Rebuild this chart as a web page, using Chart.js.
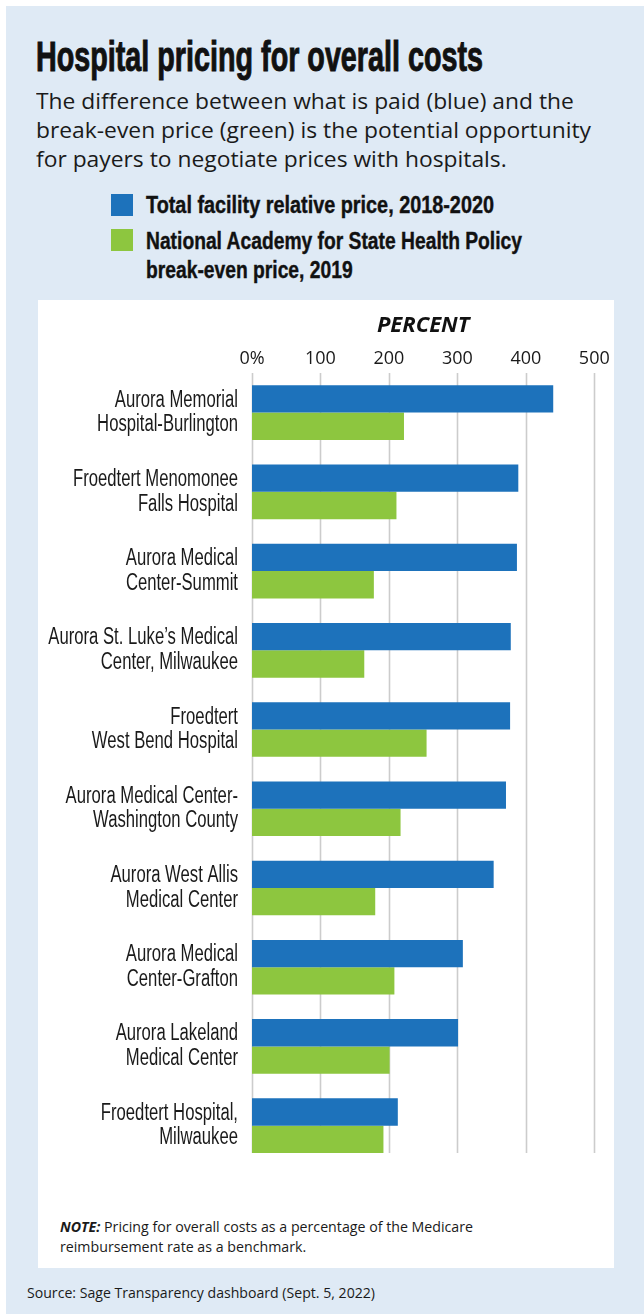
<!DOCTYPE html>
<html>
<head>
<meta charset="utf-8">
<script src="https://cdn.jsdelivr.net/npm/chart.js@4"></script>
<style>
  html, body { margin: 0; padding: 0; background: #fff; }
  body { width: 644px; height: 1314px; position: relative; overflow: hidden; font-family: 'Open Sans', sans-serif; color: #1a1a1a; }
  .bg { position: absolute; left: 6px; top: 6px; right: 0; bottom: 0; background: #dfeaf5; }
  .panel { position: absolute; left: 38px; top: 300px; width: 576px; height: 968px; background: #fff; }
  .fit { position: absolute; white-space: nowrap; transform-origin: 0 0; }
  .title { left: 36px; top: 32px; font-family: 'Liberation Sans', Arial, sans-serif; font-weight: bold; font-size: 42px; line-height: 50px; color: #111; -webkit-text-stroke: 1px #111; }
  .sub { left: 36px; top: 86px; font-size: 22px; line-height: 29px; }
  .leg { left: 146px; font-family: 'Liberation Sans', Arial, sans-serif; font-weight: bold; font-size: 23px; line-height: 28.5px; color: #111; -webkit-text-stroke: 0.4px #111; }
  .sq { position: absolute; left: 111px; width: 22px; height: 22px; }
  .note { left: 60px; top: 1217px; font-size: 14.5px; line-height: 19.5px; }
  .src { left: 27px; top: 1283px; font-size: 14.3px; line-height: 20px; }
  canvas { position: absolute; left: 38px; top: 300px; }
</style>
</head>
<body>
<div class="bg"></div>
<div class="panel"></div>
<div class="fit title" data-w="447">Hospital pricing for overall costs</div>
<div class="fit sub" data-w="555">The difference between what is paid (blue) and the<br>break-even price (green) is the potential opportunity<br>for payers to negotiate prices with hospitals.</div>
<div class="sq" style="top:194px;background:#1d72bb"></div>
<div class="fit leg" style="top:191px" data-w="348">Total facility relative price, 2018-2020</div>
<div class="sq" style="top:229px;background:#8dc63f"></div>
<div class="fit leg" style="top:227px" data-w="376">National Academy for State Health Policy<br>break-even price, 2019</div>
<canvas id="chart" width="576" height="904"></canvas>
<div class="fit note" data-w="413"><b><i>NOTE:</i></b> Pricing for overall costs as a percentage of the Medicare<br>reimbursement rate as a benchmark.</div>
<div class="fit src" data-w="348">Source: Sage Transparency dashboard (Sept. 5, 2022)</div>

<script>
// hospitals, top to bottom
const hospitals = [
  ['Aurora Memorial', 'Hospital-Burlington'],
  ['Froedtert Menomonee', 'Falls Hospital'],
  ['Aurora Medical', 'Center-Summit'],
  ['Aurora St. Luke\u2019s Medical', 'Center, Milwaukee'],
  ['Froedtert', 'West Bend Hospital'],
  ['Aurora Medical Center-', 'Washington County'],
  ['Aurora West Allis', 'Medical Center'],
  ['Aurora Medical', 'Center-Grafton'],
  ['Aurora Lakeland', 'Medical Center'],
  ['Froedtert Hospital,', 'Milwaukee']
]
// percent of Medicare
const relativePrice = [440, 389, 387, 378, 377, 371, 353, 308, 301, 213]
const breakEven = [222, 211, 178, 164, 255, 217, 180, 208, 201, 192]
const xTicks = [0, 100, 200, 300, 400, 500]

const blue = '#1d72bb'
const green = '#8dc63f'
const squeeze = 0.725

// squeeze the text blocks to the widths of the condensed print fonts
document.querySelectorAll('.fit').forEach(function(el) {
  const w = el.getBoundingClientRect().width
  el.style.transform = 'scaleX(' + (el.dataset.w / w) + ')'
})

// vertical grid lines, stopping at the bottom of the last bar
const gridLines = {
  id: 'gridLines',
  beforeDatasetsDraw(chart) {
    const ctx = chart.ctx
    const x = chart.scales.x
    const meta = chart.getDatasetMeta(1)
    const last = meta.data[meta.data.length - 1]
    const bottom = last.y + last.height / 2
    ctx.save()
    ctx.strokeStyle = '#cccccc'
    ctx.lineWidth = 1.6
    xTicks.forEach(function(t) {
      const px = Math.round(x.getPixelForValue(t)) + 0.5
      ctx.beginPath()
      ctx.moveTo(px, chart.chartArea.top)
      ctx.lineTo(px, bottom)
      ctx.stroke()
    })
    ctx.restore()
  }
}

new Chart(document.getElementById('chart'), {
  type: 'bar',
  data: {
    labels: hospitals,
    datasets: [
      { label: 'Total facility relative price, 2018-2020', data: relativePrice, backgroundColor: blue },
      { label: 'National Academy for State Health Policy break-even price, 2019', data: breakEven, backgroundColor: green }
    ]
  },
  options: {
    indexAxis: 'y',
    responsive: false,
    animation: false,
    devicePixelRatio: 1,
    layout: { padding: { top: 0, right: 19.7, bottom: 0, left: 0 } },
    datasets: { bar: { categoryPercentage: 0.69, barPercentage: 1 } },
    plugins: { legend: { display: false }, tooltip: { enabled: false } },
    scales: {
      x: {
        position: 'top',
        min: 0,
        max: 500,
        afterBuildTicks: function(scale) { scale.ticks = xTicks.map(function(v) { return { value: v } }) },
        afterFit: function(scale) { scale.height = 73 },
        grid: { display: false, drawTicks: false },
        border: { display: false },
        title: { display: true, text: 'PERCENT', color: '#111', font: { family: "'Open Sans', sans-serif", size: 22, weight: 'bold', style: 'italic' }, padding: { top: 13, bottom: 0 } },
        ticks: {
          color: '#1a1a1a',
          font: { family: "'Open Sans', sans-serif", size: 18 },
          padding: 3,
          callback: function(v) { return v === 0 ? '0%' : v }
        }
      },
      y: {
        afterFit: function(scale) {
          scale.width = 214
          if (!scale.narrowed) {
            // condensed hospital names: squeeze the labels horizontally round their right edge
            const drawLabels = scale.drawLabels
            scale.drawLabels = function(area) {
              const ctx = this.ctx
              const xr = this.right - this.options.ticks.padding
              const left = this.left
              this.left = xr - (xr - left) / squeeze  // widen the label clip to match the squeeze
              ctx.save()
              ctx.translate(xr, 0)
              ctx.scale(squeeze, 1)
              ctx.translate(-xr, 0)
              drawLabels.call(this, area)
              ctx.restore()
              this.left = left
            }
            scale.narrowed = true
          }
        },
        grid: { display: false, drawTicks: false },
        border: { display: false },
        ticks: {
          color: '#1a1a1a',
          font: { family: "'Liberation Sans', Arial, sans-serif", size: 23, lineHeight: 1.074 },
          padding: 14
        }
      }
    }
  },
  plugins: [gridLines]
})
</script>
</body>
</html>
